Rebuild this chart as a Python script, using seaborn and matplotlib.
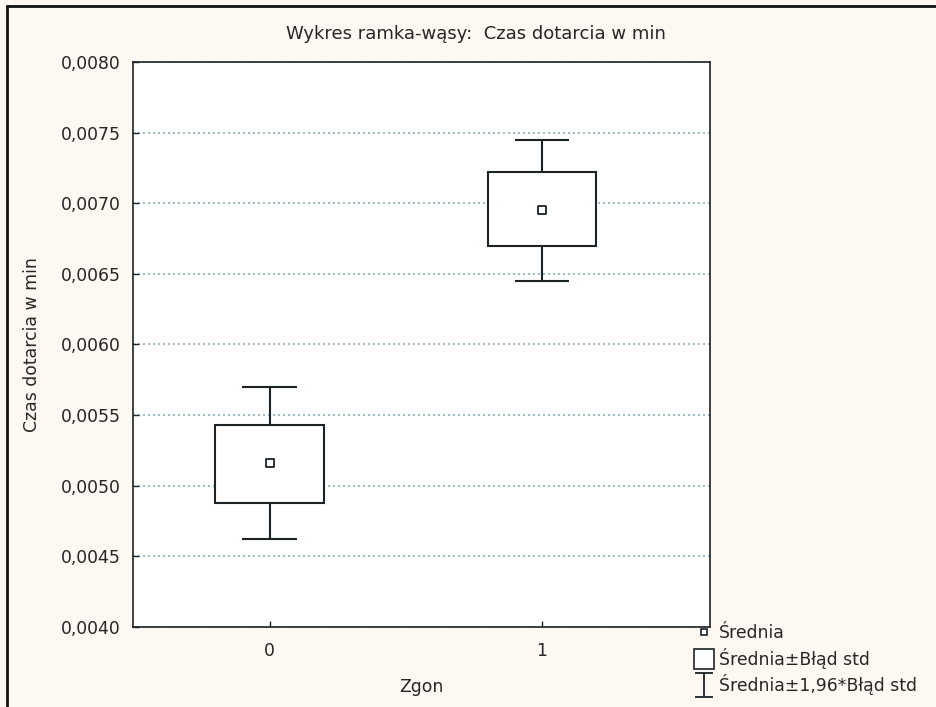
import matplotlib
matplotlib.use("Agg")
import matplotlib.pyplot as plt
import matplotlib.ticker as mticker
from matplotlib.lines import Line2D
from matplotlib.path import Path
import seaborn as sns
import pandas as pd

# Data
categories = ["0", "1"]
means = [0.00516, 0.00695]
box_low = [0.00488, 0.00670]     # mean - std error
box_high = [0.00543, 0.00722]    # mean + std error
whisk_low = [0.00462, 0.00645]   # mean - 1.96*std error
whisk_high = [0.00570, 0.00745]  # mean + 1.96*std error
y_ticks = [0.0040, 0.0045, 0.0050, 0.0055, 0.0060, 0.0065, 0.0070, 0.0075, 0.0080]

df = pd.DataFrame({"Zgon": categories, "mean": means})

sns.set_theme(style="white")
plt.rcParams["font.family"] = ["DejaVu Sans"]

fs = 12.4
txt_col = "#262626"
fig = plt.figure(figsize=(9.36, 7.07), dpi=100, facecolor="#fdf8f2")
ax = fig.add_axes([0.1421, 0.1132, 0.6164, 0.7991])
ax.set_facecolor("white")

line_col = "#1c2326"
pos = list(range(len(categories)))

# whiskers
ax.vlines(pos, whisk_low, whisk_high, color=line_col, lw=1.5, zorder=2)
ax.hlines(whisk_low, [p - 0.1 for p in pos], [p + 0.1 for p in pos], color=line_col, lw=1.5, zorder=2)
ax.hlines(whisk_high, [p - 0.1 for p in pos], [p + 0.1 for p in pos], color=line_col, lw=1.5, zorder=2)
# boxes
ax.bar(pos, [h - l for h, l in zip(box_high, box_low)], bottom=box_low, width=0.4,
       facecolor="white", edgecolor=line_col, linewidth=1.5, zorder=3)
# means
sns.scatterplot(data=df, x="Zgon", y="mean", marker="s", s=30, facecolor="white",
                edgecolor=line_col, linewidth=1.3, ax=ax, zorder=4)

ax.set_xlim(-0.502, 1.617)
ax.set_ylim(0.0040, 0.0080)
ax.set_yticks(y_ticks)
ax.yaxis.set_major_formatter(mticker.FuncFormatter(lambda v, p: f"{v:.4f}".replace(".", ",")))
ax.set_xticks(pos)
ax.set_xticklabels(categories)
ax.tick_params(axis="both", direction="in", length=4, width=1, colors=line_col,
               labelsize=fs, labelcolor=txt_col, left=True, bottom=True)
ax.tick_params(axis="y", pad=9)
ax.tick_params(axis="x", pad=11)
ax.yaxis.grid(True, linestyle=(0, (1.2, 1.8)), color="#8fb0c4", lw=1.2)
ax.set_axisbelow(True)
for sp in ax.spines.values():
    sp.set_color(line_col)
    sp.set_linewidth(1.2)

ax.set_xlabel("Zgon", fontsize=fs, color=txt_col)
ax.xaxis.set_label_coords(0.5, -0.09)
ax.set_ylabel("Czas dotarcia w min", fontsize=fs, color=txt_col)
ax.yaxis.set_label_coords(-0.16, 0.5)
fig.text(0.509, 0.952, "Wykres ramka-wąsy:  Czas dotarcia w min", fontsize=13,
         color=txt_col, ha="center", va="center")

# legend
ibar = Path([(-0.75, -1), (0.75, -1), (0, -1), (0, 1), (-0.75, 1), (0.75, 1)],
            [Path.MOVETO, Path.LINETO, Path.MOVETO, Path.LINETO, Path.MOVETO, Path.LINETO])
h_mean = Line2D([], [], ls="none", marker="s", markersize=5, markerfacecolor="white",
                markeredgecolor=line_col, markeredgewidth=1.2)
h_box = Line2D([], [], ls="none", marker="s", markersize=14, markerfacecolor="white",
               markeredgecolor=line_col, markeredgewidth=1.2)
h_bar = Line2D([], [], ls="none", marker=ibar, markersize=17, markerfacecolor="none",
               markeredgecolor=line_col, markeredgewidth=1.3)
leg = fig.legend([h_mean, h_box, h_bar],
                 ["Średnia", "Średnia±Błąd std", "Średnia±1,96*Błąd std"],
                 loc="upper left", bbox_to_anchor=(0.737, 0.127), frameon=False,
                 fontsize=fs, handlelength=0.9, handletextpad=0.4, labelspacing=0.33,
                 borderaxespad=0)
for t in leg.get_texts():
    t.set_color(txt_col)

# window frame lines (left and top)
fig.add_artist(Line2D([0.008, 0.008], [0, 0.992], transform=fig.transFigure, color="#111111", lw=2))
fig.add_artist(Line2D([0.008, 1], [0.992, 0.992], transform=fig.transFigure, color="#111111", lw=2))

fig.savefig("out.png", dpi=100, facecolor=fig.get_facecolor())
